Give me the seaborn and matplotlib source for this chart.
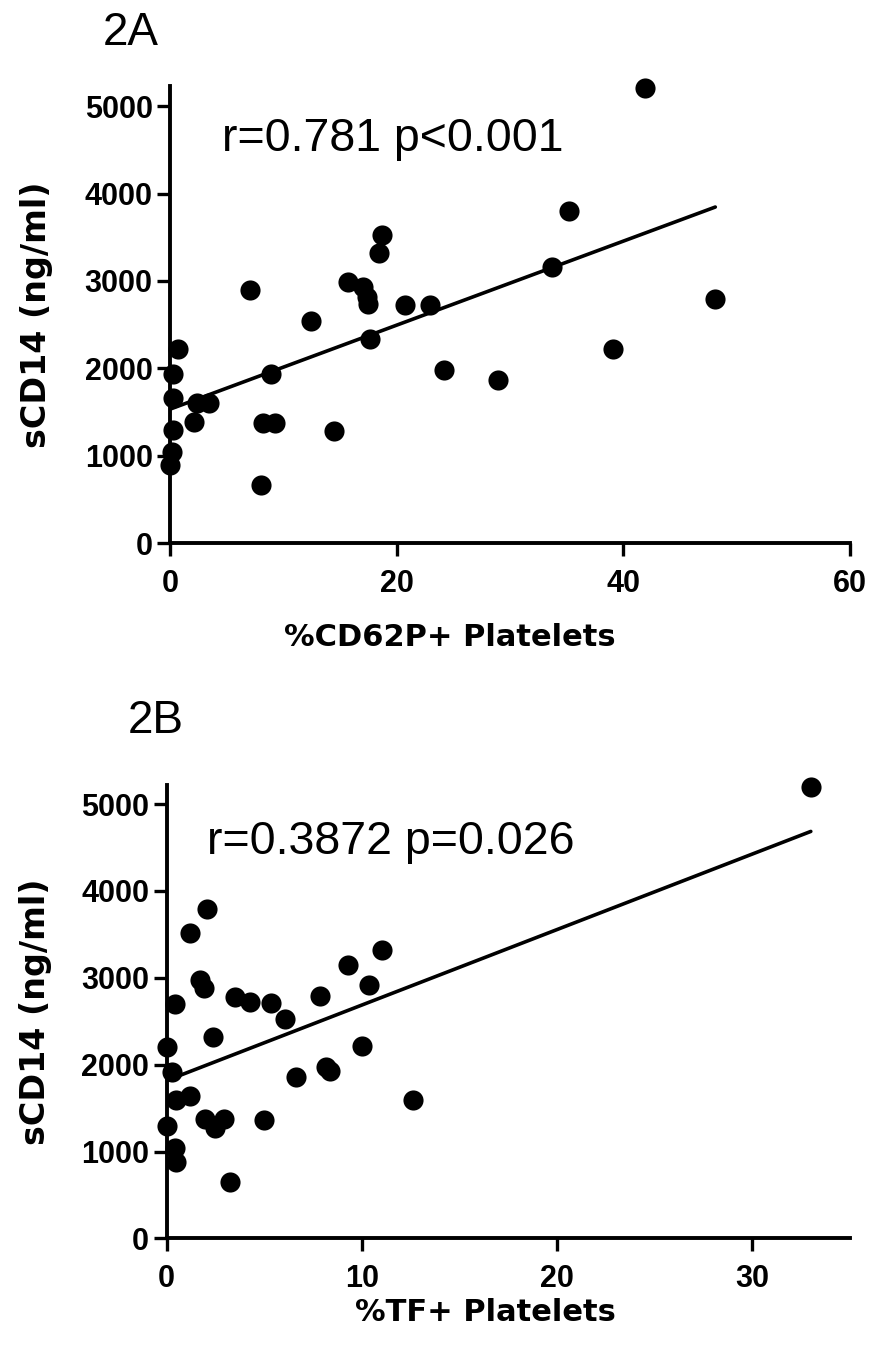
import numpy as np
import pandas as pd
import matplotlib
matplotlib.use("Agg")
import matplotlib.pyplot as plt
import seaborn as sns

sns.set_style("ticks")
plt.rcParams['font.family'] = ['Liberation Sans', 'DejaVu Sans']
plt.rcParams['axes.linewidth'] = 2.8
plt.rcParams['xtick.major.width'] = 2.4
plt.rcParams['ytick.major.width'] = 2.4
plt.rcParams['xtick.major.size'] = 9.5
plt.rcParams['ytick.major.size'] = 9.5
for key in ['text.color', 'axes.labelcolor', 'xtick.color', 'ytick.color', 'axes.edgecolor']:
    plt.rcParams[key] = 'black'

# Panel 2A: %CD62P+ platelets vs sCD14
cd62p_pct = [41.9, 35.2, 33.7, 48.1, 39.1, 28.9, 24.2, 22.9, 20.7, 17.65,
             18.7, 18.4, 15.7, 17.0, 17.35, 17.5, 12.4, 14.5, 7.06, 0.73,
             0.3, 0.3, 2.35, 3.4, 2.15, 8.9, 8.2, 9.3, 0.3, 0.15, 0.0, 8.0]
scd14_a = [5207, 3797, 3157, 2793, 2218, 1866, 1981, 2724, 2724, 2333,
           3529, 3322, 2992, 2927, 2812, 2736, 2544, 1287, 2900, 2218,
           1931, 1663, 1605, 1598, 1383, 1931, 1376, 1376, 1299, 1042, 897, 667]

# Panel 2B: %TF+ platelets vs sCD14
tf_pct = [2.07, 1.18, 1.69, 1.90, 0.41, 3.49, 4.29, 5.33, 6.05, 7.85,
          9.27, 11.04, 10.36, 10.03, 2.37, 0.0, 0.29, 1.18, 0.5, 6.65,
          8.15, 8.36, 12.63, 1.95, 2.46, 2.92, 4.97, 0.0, 0.41, 0.5, 3.27, 33.0]
scd14_b = [3787, 3515, 2979, 2883, 2703, 2779, 2722, 2715, 2531, 2787,
           3152, 3316, 2914, 2213, 2320, 2205, 1918, 1641, 1592, 1860,
           1968, 1929, 1592, 1370, 1267, 1370, 1362, 1293, 1037, 883, 653, 5201]

y_ticks = [0, 1000, 2000, 3000, 4000, 5000]

df_a = pd.DataFrame({'x': cd62p_pct, 'y': scd14_a})
df_b = pd.DataFrame({'x': tf_pct, 'y': scd14_b})

fig = plt.figure(figsize=(8.72, 13.59), dpi=100)
ax_a = fig.add_axes([0.195, 0.6004, 0.780, 0.3363])
ax_b = fig.add_axes([0.191, 0.0887, 0.7836, 0.3337])

panels = [
    (ax_a, df_a, (0, 60), [0, 20, 40, 60], 5230, '%CD62P+ Platelets',
     'r=0.781 p<0.001', (4.6, 4483), (0.412, -0.176), -0.172),
    (ax_b, df_b, (0, 35), [0, 10, 20, 30], 5220, '%TF+ Platelets',
     'r=0.3872 p=0.026', (2.07, 4424), (0.466, -0.131), -0.167),
]

label_font = ['DejaVu Sans']

for ax, df, xlim, xticks, ytop, xlabel, stat, stat_pos, xl_pos, yl_x in panels:
    sns.regplot(data=df, x='x', y='y', ax=ax, ci=None, truncate=True,
                scatter_kws=dict(s=210, color='black', alpha=1, linewidths=0, clip_on=False, zorder=3),
                line_kws=dict(color='black', lw=2.6, zorder=2))
    ax.set_xlim(*xlim)
    ax.set_ylim(0, ytop)
    ax.set_xticks(xticks)
    ax.set_yticks(y_ticks)
    sns.despine(ax=ax)
    ax.tick_params(labelsize=22, pad=3)
    ax.tick_params(axis='x', pad=9)
    for lab in ax.get_xticklabels() + ax.get_yticklabels():
        lab.set_fontweight('bold')
    ax.set_xlabel(xlabel, fontsize=22, fontweight='bold', family=label_font)
    ax.set_ylabel('sCD14 (ng/ml)', fontsize=24, fontweight='bold', family=label_font)
    ax.xaxis.set_label_coords(*xl_pos)
    ax.yaxis.set_label_coords(yl_x, 0.5)
    ax.text(stat_pos[0], stat_pos[1], stat, fontsize=33.5, va='baseline', ha='left')

fig.text(0.118, 0.967, '2A', fontsize=33, va='baseline', ha='left')
fig.text(0.146, 0.4606, '2B', fontsize=33, va='baseline', ha='left')

fig.savefig('out.png', dpi=100)
